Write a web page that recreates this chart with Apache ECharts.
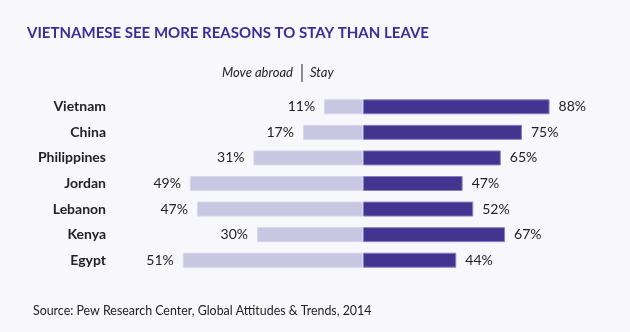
<!DOCTYPE html>
<html><head><meta charset="utf-8">
<script src="https://cdn.jsdelivr.net/npm/echarts@6/dist/echarts.min.js"></script>
<style>html,body{margin:0;padding:0;background:#f8f8fc;}#c{width:630px;height:332px;}</style>
</head><body><div id="c"></div>
<script>
var title = 'VIETNAMESE SEE MORE REASONS TO STAY THAN LEAVE';
var source = 'Source: Pew Research Center, Global Attitudes & Trends, 2014';
var countries = ['Vietnam','China','Philippines','Jordan','Lebanon','Kenya','Egypt'];
var moveAbroad = [11,17,31,49,47,30,51];
var stay = [88,75,65,47,52,67,44];

var chart = echarts.init(document.getElementById('c'));
var font = 'Lato, "Open Sans", sans-serif';
chart.setOption({
  backgroundColor: '#f8f8fc',
  animation: false,
  title: {text: title, left: 22, top: 21, textStyle: {color: '#3a2d9c', fontSize: 15, fontWeight: 'bold', fontFamily: font}},
  graphic: [
    {type:'text', left: 222, top: 66, style:{text:'Move abroad', font:'italic 13px ' + font, fill:'#222'}},
    {type:'rect', shape:{x:301.5, y:64, width:1, height:18}, style:{fill:'#222'}},
    {type:'text', left: 310, top: 66, style:{text:'Stay', font:'italic 13px ' + font, fill:'#222'}},
    {type:'text', left: 33, top: 305, style:{text: source, font:'12.4px ' + font, fill:'#222'}}
  ],
  grid: [
    {left: 151, width: 212, top: 94, height: 179},
    {left: 363, width: 212, top: 94, height: 179}
  ],
  xAxis: [
    {gridIndex:0, type:'value', min:0, max:60, inverse:true, show:false},
    {gridIndex:1, type:'value', min:0, max:100, show:false}
  ],
  yAxis: [
    {gridIndex:0, type:'category', data: countries, inverse:true, axisLine:{show:false}, axisTick:{show:false},
     axisLabel:{show:true, margin:45, color:'#222', fontSize:14, fontWeight:'bold', fontFamily:font}},
    {gridIndex:1, type:'category', data: countries, inverse:true, show:false}
  ],
  series: [
    {type:'bar', xAxisIndex:0, yAxisIndex:0, data: moveAbroad, barWidth:15,
     itemStyle:{color:'#c9c6e2', borderColor:'#d8d5ec', borderWidth:1},
     label:{show:true, position:'left', distance:9, formatter:'{c}%', color:'#222', fontSize:14, fontFamily:font}},
    {type:'bar', xAxisIndex:1, yAxisIndex:1, data: stay, barWidth:15,
     itemStyle:{color:'#43358f', borderColor:'#8a7fc7', borderWidth:1},
     label:{show:true, position:'right', distance:9, formatter:'{c}%', color:'#222', fontSize:14, fontFamily:font}}
  ]
});
</script></body></html>
